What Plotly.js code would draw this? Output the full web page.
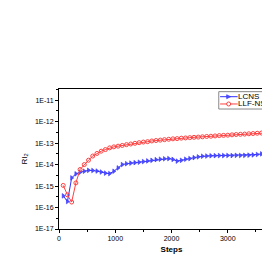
<!DOCTYPE html>
<html><head><meta charset="utf-8">
<script src="https://cdn.plot.ly/plotly-3.0.1.min.js"></script>
<style>html,body{margin:0;padding:0;overflow:hidden;background:#fff;}</style>
</head><body><div id="chart"></div>
<script>
const steps = [75,150,225,300,375,450,525,600,675,750,825,900,975,1050,1125,1200,1275,1350,1425,1500,1575,1650,1725,1800,1875,1950,2025,2100,2175,2250,2325,2400,2475,2550,2625,2700,2775,2850,2925,3000,3075,3150,3225,3300,3375,3450,3525,3600,3675,3750,3825,3900,3975];
const lcn = [3.5e-16,1.9e-16,2.4e-15,3.7e-15,4.4e-15,4.9e-15,5.4e-15,5.3e-15,5.0e-15,4.5e-15,4.0e-15,3.8e-15,4.9e-15,7.0e-15,1.0e-14,1.1e-14,1.17e-14,1.23e-14,1.29e-14,1.38e-14,1.48e-14,1.58e-14,1.70e-14,1.78e-14,1.86e-14,1.9e-14,1.74e-14,1.45e-14,1.58e-14,1.78e-14,1.9e-14,2.1e-14,2.29e-14,2.45e-14,2.5e-14,2.57e-14,2.6e-14,2.63e-14,2.63e-14,2.66e-14,2.63e-14,2.69e-14,2.66e-14,2.69e-14,2.75e-14,2.82e-14,2.95e-14,3.16e-14,3.2e-14,3.3e-14,3.4e-14,3.45e-14,3.5e-14];
const llf = [1.07e-15,3.9e-16,1.8e-16,1.4e-15,5.9e-15,1.0e-14,1.6e-14,2.5e-14,3.3e-14,4.2e-14,5.0e-14,6.0e-14,6.7e-14,7.2e-14,7.8e-14,8.5e-14,9.1e-14,9.8e-14,1.05e-13,1.12e-13,1.17e-13,1.26e-13,1.32e-13,1.38e-13,1.45e-13,1.51e-13,1.58e-13,1.62e-13,1.70e-13,1.74e-13,1.80e-13,1.86e-13,1.91e-13,1.97e-13,2.04e-13,2.09e-13,2.16e-13,2.24e-13,2.29e-13,2.34e-13,2.43e-13,2.51e-13,2.57e-13,2.63e-13,2.72e-13,2.79e-13,2.88e-13,2.95e-13,3.02e-13,3.09e-13,3.16e-13,3.24e-13,3.31e-13];
const seriesNames = ["LCNS","LLF-NS"];
const yTickVals = [1e-17,1e-16,1e-15,1e-14,1e-13,1e-12,1e-11];
const yTickText = ["1E-17","1E-16","1E-15","1E-14","1E-13","1E-12","1E-11"];
const yMinorVals = [3.16e-17,3.16e-16,3.16e-15,3.16e-14,3.16e-13,3.16e-12,3.16e-11];
const xTickVals = [0,1000,2000,3000,4000];
const colors = ['#3030ff','#ff4040'];

const traces = [
  {x: steps, y: lcn, name: seriesNames[0], type:'scatter', mode:'lines+markers', showlegend:false,
   line:{color:colors[0], width:1}, marker:{symbol:'triangle-right', size:4, color:'#5050ff', line:{color:colors[0], width:0.6}}},
  {x: steps, y: llf, name: seriesNames[1], type:'scatter', mode:'lines+markers', showlegend:false,
   line:{color:colors[1], width:1}, marker:{symbol:'circle-open', size:4, color:colors[1], line:{width:1}}}
];

// hand-built compact legend (paper coordinates)
const lgX0 = 0.710, lgX1 = 1.2, lgY0 = 0.857, lgY1 = 0.981;
const rowY = [0.945, 0.893];
const lnX0 = 0.716, lnX1 = 0.794, mkX = 0.754, txtX = 0.80;
const dx = 0.0089, dy = 0.0143;
const shapes = [
  {type:'rect', xref:'paper', yref:'paper', x0:lgX0, x1:lgX1, y0:lgY0, y1:lgY1, line:{color:'#888', width:1}, fillcolor:'#fff', layer:'above'},
  {type:'line', xref:'paper', yref:'paper', x0:lnX0, x1:lnX1, y0:rowY[0], y1:rowY[0], line:{color:colors[0], width:1}, layer:'above'},
  {type:'path', xref:'paper', yref:'paper', path:`M ${mkX-dx} ${rowY[0]+dy} L ${mkX+dx} ${rowY[0]} L ${mkX-dx} ${rowY[0]-dy} Z`, fillcolor:'#5050ff', line:{color:colors[0], width:0.6}, layer:'above'},
  {type:'line', xref:'paper', yref:'paper', x0:lnX0, x1:lnX1, y0:rowY[1], y1:rowY[1], line:{color:colors[1], width:1}, layer:'above'},
  {type:'circle', xref:'paper', yref:'paper', x0:mkX-dx, x1:mkX+dx, y0:rowY[1]-dy, y1:rowY[1]+dy, fillcolor:'#fff', line:{color:colors[1], width:1}, layer:'above'}
];
const annotations = seriesNames.map((n,i)=>({xref:'paper', yref:'paper', x:txtX, y:rowY[i], text:n, showarrow:false,
  xanchor:'left', yanchor:'middle', xshift:-2, borderpad:0, font:{size:8, color:'#000'}}));

const layout = {
  width: 294, height: 262,
  margin:{l:59, r:10, t:89, b:33, autoexpand:false},
  paper_bgcolor:'#fff', plot_bgcolor:'#fff',
  font:{family:'Liberation Sans, Arial, sans-serif', size:7, color:'#000'},
  showlegend:false,
  shapes: shapes, annotations: annotations,
  xaxis:{range:[0,4000], tickvals:xTickVals, ticks:'outside', ticklen:3, tickwidth:1, tickcolor:'#000', automargin:false,
    showline:true, linecolor:'#000', linewidth:1, mirror:true, showgrid:false, zeroline:false,
    minor:{tickvals:[500,1500,2500,3500], ticks:'outside', ticklen:2, tickcolor:'#000'},
    tickfont:{size:7}, title:{text:'<b>Steps</b>', font:{size:8}, standoff:4}},
  yaxis:{type:'log', range:[-17,-10.48], tickvals:yTickVals, ticktext:yTickText, ticks:'outside', ticklen:3, tickwidth:1, tickcolor:'#000', automargin:false,
    showline:true, linecolor:'#000', linewidth:1, mirror:true, showgrid:false, zeroline:false,
    minor:{tickvals:yMinorVals, ticks:'outside', ticklen:2, tickcolor:'#000'},
    tickfont:{size:7}, title:{text:'RI<sub>2</sub>', font:{size:8}, standoff:6}}
};
Plotly.newPlot('chart', traces, layout, {displayModeBar:false, staticPlot:true});
</script></body></html>
